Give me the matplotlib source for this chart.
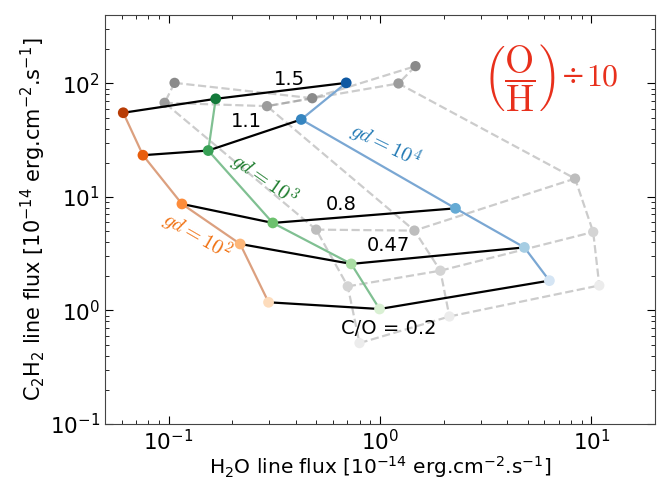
import matplotlib
matplotlib.use("Agg")
import matplotlib.pyplot as plt

# C/O ratios along each grain-to-dust curve
co_levels = [1.5, 1.1, 0.8, 0.47, 0.2]
co_labels = ["1.5", "1.1", "0.8", "0.47", "C/O = 0.2"]

# Fiducial O/H: H2O and C2H2 line fluxes for each gas-to-dust ratio
h2o_gd2 = [0.061, 0.0756, 0.1156, 0.218, 0.297]
c2h2_gd2 = [55.1, 23.3, 8.67, 3.85, 1.18]
h2o_gd3 = [0.167, 0.154, 0.311, 0.731, 0.995]
c2h2_gd3 = [73.1, 25.6, 5.9, 2.57, 1.03]
h2o_gd4 = [0.692, 0.424, 2.275, 4.82, 6.33]
c2h2_gd4 = [101.0, 48.1, 7.93, 3.59, 1.83]

# O/H divided by 10
h2o_gd2_low = [0.1067, 0.0957, 0.499, 0.704, 0.80]
c2h2_gd2_low = [101.0, 67.4, 5.15, 1.63, 0.516]
h2o_gd3_low = [0.478, 0.292, 1.455, 1.93, 2.13]
c2h2_gd3_low = [74.0, 63.0, 5.05, 2.24, 0.885]
h2o_gd4_low = [1.472, 1.223, 8.37, 10.2, 10.9]
c2h2_gd4_low = [141.8, 99.8, 14.5, 4.91, 1.66]

orange_pts = ["#b83c05", "#e85d0c", "#fd8c3b", "#fdb77a", "#fddcbc"]
green_pts = ["#137a3a", "#37a055", "#6cc16d", "#aadda4", "#d9f0d3"]
blue_pts = ["#0e58a2", "#3585c0", "#65aad4", "#a6cde3", "#d5e5f4"]
grey_pts = ["#8a8a8a", "#9c9c9c", "#bdbdbd", "#d4d4d4", "#ececec"]

fig = plt.figure(figsize=(6.57, 4.84), dpi=100)
ax = fig.add_axes([105 / 657, 1 - 424 / 484, 550 / 657, 409 / 484])
ax.set_xscale("log")
ax.set_yscale("log")

# --- reduced O/H grid (dashed grey) ---
low = [(h2o_gd2_low, c2h2_gd2_low), (h2o_gd3_low, c2h2_gd3_low), (h2o_gd4_low, c2h2_gd4_low)]
for xs, ys in low:
    ax.plot(xs, ys, ls="--", color="gray", alpha=0.4, lw=1.6, zorder=1)
for i in range(len(co_levels)):
    ax.plot([g[0][i] for g in low], [g[1][i] for g in low],
            ls="--", color="gray", alpha=0.4, lw=1.6, zorder=1)
for xs, ys in low:
    ax.scatter(xs, ys, c=grey_pts, s=55, zorder=2, edgecolors="none")

# --- fiducial grid ---
fid = [(h2o_gd2, c2h2_gd2, "#dca07f", orange_pts),
       (h2o_gd3, c2h2_gd3, "#80c092", green_pts),
       (h2o_gd4, c2h2_gd4, "#7aa7d3", blue_pts)]
for xs, ys, lc, _ in fid:
    ax.plot(xs, ys, color=lc, lw=1.6, zorder=3)
for i in range(len(co_levels)):
    ax.plot([g[0][i] for g in fid], [g[1][i] for g in fid],
            color="black", lw=1.6, zorder=4)
for xs, ys, _, pc in fid:
    ax.scatter(xs, ys, c=pc, s=60, zorder=5, edgecolors="none")

# C/O labels
co_pos = [(0.373, 108), (0.234, 46.6), (0.658, 8.6), (1.10, 3.75), (1.10, 0.69)]
for (x, y), lab in zip(co_pos, co_labels):
    ax.text(x, y, lab, fontsize=14, ha="center", va="center", zorder=6)

# gas-to-dust labels
ax.text(0.136, 4.48, r"$gd = 10^2$", color="#f07010", fontsize=15,
        rotation=-30, ha="center", va="center", math_fontfamily="cm")
ax.text(0.281, 14.2, r"$gd = 10^3$", color="#1a7a2a", fontsize=15,
        rotation=-35, ha="center", va="center", math_fontfamily="cm")
ax.text(1.05, 28.4, r"$gd = 10^4$", color="#1f78b4", fontsize=15,
        rotation=-26, ha="center", va="center", math_fontfamily="cm")

# O/H scaling annotation
red = "#e8301c"
ax.text(0.753, 0.848, r"$\left(\dfrac{\mathrm{O}}{\mathrm{H}}\right)$",
        transform=ax.transAxes, color=red, fontsize=27,
        ha="center", va="center", math_fontfamily="cm")
ax.text(0.852, 0.848, "÷", transform=ax.transAxes, color=red,
        fontsize=21, ha="center", va="center", family="DejaVu Serif")
ax.text(0.905, 0.848, r"$10$", transform=ax.transAxes, color=red,
        fontsize=23, ha="center", va="center", math_fontfamily="cm")

ax.set_xlim(0.05, 20)
ax.set_ylim(0.1, 400)
ax.set_xlabel(r"H$_2$O line flux [10$^{-14}$ erg.cm$^{-2}$.s$^{-1}$]",
              fontsize=14.5, labelpad=0)
ax.set_ylabel(r"C$_2$H$_2$ line flux [10$^{-14}$ erg.cm$^{-2}$.s$^{-1}$]",
              fontsize=15, labelpad=1)
ax.tick_params(which="both", direction="in", top=True, right=True, labelsize=15.5)
ax.tick_params(which="major", length=6)
ax.tick_params(which="minor", length=3)
for sp in ax.spines.values():
    sp.set_color("#444444")

fig.savefig("out.png", dpi=100)
